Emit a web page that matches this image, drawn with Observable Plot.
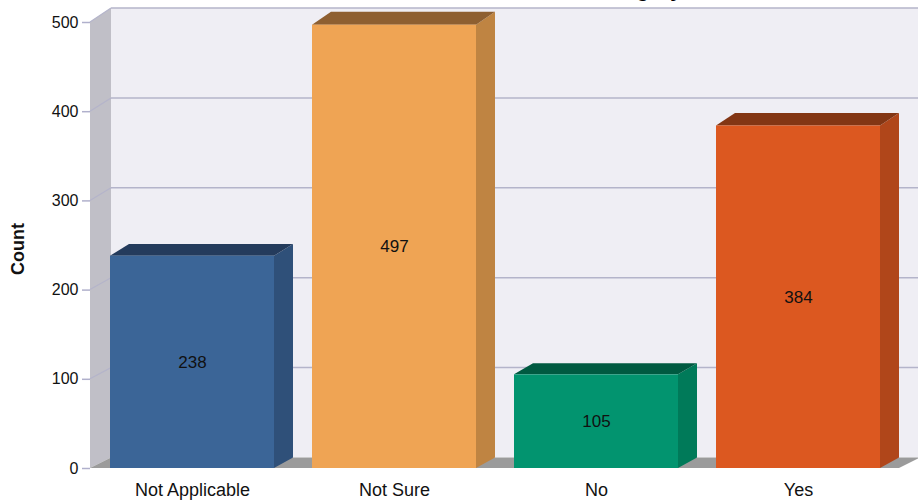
<!DOCTYPE html>
<html>
<head>
<meta charset="utf-8">
<script src="https://cdn.jsdelivr.net/npm/d3@7"></script>
<script src="https://cdn.jsdelivr.net/npm/@observablehq/plot@0.6"></script>
<style>
  body { margin: 0; background: #fff; }
  svg { display: block; }
</style>
</head>
<body>
<div id="chart"></div>
<script>
// Responses per category
const categories = ["Not Applicable", "Not Sure", "No", "Yes"];
const counts = [238, 497, 105, 384];
const yTicks = [0, 100, 200, 300, 400, 500];
const titleText = "Answer Category";
const yLabel = "Count";

// Face colours for each bar: front, side, top
const frontColors = ["#3b6597", "#efa454", "#02946f", "#dc5820"];
const sideColors = ["#2f5079", "#bf8442", "#007a59", "#b0461a"];
const topColors = ["#243b5c", "#8e5f31", "#005a41", "#833614"];

const data = categories.map((category, i) => ({category, count: counts[i], i}));

const W = 918, H = 502;
const FONT = "'Liberation Sans', Arial, sans-serif";

// depth of the chart box (back wall offset) and of each bar
const boxDX = 21;
const boxDY = v => 10.5 + 3.5 * v / 500;
const barDX = 19;
const barDY = v => 10.5 + 2.5 * v / 500;

function poly(g, pts, fill) {
  g.append("polygon")
    .attr("points", pts.map(p => p.join(",")).join(" "))
    .attr("fill", fill);
}

// Back wall, left wall, floor and gridlines of the 3D box, plus titles
function backdrop(index, scales, values, dims) {
  const y = scales.y;
  const L = dims.marginLeft;
  const R = dims.width - dims.marginRight;
  const top = 500, bot = 0;
  const yb = v => y(v) - boxDY(v);
  const g = d3.create("svg:g");
  poly(g, [[L + boxDX, yb(bot)], [L + boxDX, yb(top)], [R + boxDX, yb(top)], [R + boxDX, yb(bot)]], "#efeef4");
  for (const v of yTicks) {
    if (v === 0) continue;
    g.append("line")
      .attr("x1", L + boxDX).attr("x2", R + boxDX)
      .attr("y1", yb(v)).attr("y2", yb(v))
      .attr("stroke", "#b4b4ca").attr("stroke-width", 1.5);
  }
  poly(g, [[L, y(bot)], [L, y(top)], [L + boxDX, yb(top)], [L + boxDX, yb(bot)]], "#c0bfc7");
  poly(g, [[L, y(bot)], [R, y(bot)], [R + boxDX, yb(bot)], [L + boxDX, yb(bot)]], "#9b9b9b");
  for (const v of yTicks) {
    if (v === 0) continue;
    g.append("line")
      .attr("x1", L).attr("x2", L + boxDX)
      .attr("y1", y(v)).attr("y2", yb(v))
      .attr("stroke", "#b4b4ca").attr("stroke-width", 1.2);
  }
  g.append("text")
    .attr("x", 682).attr("y", -3)
    .attr("text-anchor", "end")
    .attr("font-family", FONT)
    .attr("font-weight", "bold")
    .attr("font-size", 21)
    .attr("fill", "#000")
    .text(titleText);
  g.append("text")
    .attr("transform", "translate(24,249) rotate(-90)")
    .attr("text-anchor", "middle")
    .attr("font-family", FONT)
    .attr("font-weight", "bold")
    .attr("font-size", 18)
    .attr("fill", "#111")
    .text(yLabel);
  return g.node();
}

// Side and top faces of each bar
function barFaces(index, scales, values, dims) {
  const x = scales.x, y = scales.y;
  const bw = x.bandwidth();
  const g = d3.create("svg:g");
  data.forEach(d => {
    const x0 = x(d.category), x1 = x0 + bw;
    const yv = y(d.count), y0 = y(0);
    const dv = barDY(d.count), d0 = barDY(0);
    poly(g, [[x1, y0], [x1, yv], [x1 + barDX, yv - dv], [x1 + barDX, y0 - d0]], sideColors[d.i]);
    poly(g, [[x0, yv], [x1, yv], [x1 + barDX, yv - dv], [x0 + barDX, yv - dv]], topColors[d.i]);
  });
  return g.node();
}

const chart = Plot.plot({
  width: W,
  height: H,
  marginLeft: 90,
  marginRight: 19,
  marginTop: 22,
  marginBottom: 34,
  style: {fontFamily: FONT, background: "#fff", overflow: "hidden"},
  x: {
    type: "band",
    domain: categories,
    range: [91, 899],
    paddingInner: 38 / 202,
    paddingOuter: 19 / 202
  },
  y: {domain: [0, 500], range: [468, 22]},
  color: {type: "ordinal", domain: categories, range: frontColors},
  marks: [
    backdrop,
    barFaces,
    Plot.barY(data, {x: "category", y: "count", fill: "category"}),
    Plot.text(data, {
      x: "category",
      y: d => d.count / 2,
      text: d => String(d.count),
      fontSize: 17,
      fill: "#111"
    }),
    Plot.axisY({
      ticks: yTicks,
      tickSize: 8,
      tickPadding: 4,
      stroke: "#b0b0cc",
      strokeWidth: 1.5,
      fill: "#111",
      fontSize: 16,
      label: null
    }),
    Plot.axisX({
      tickSize: 0,
      tickPadding: 15,
      fill: "#111",
      fontSize: 18,
      label: null
    })
  ]
});

document.getElementById("chart").appendChild(chart);
</script>
</body>
</html>
